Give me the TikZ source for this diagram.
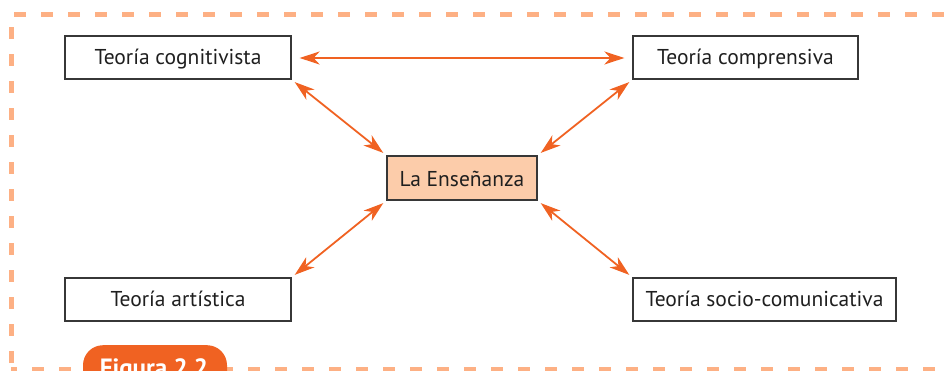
\documentclass[tikz,border=0pt]{standalone}
\usepackage{fontspec}
\setmainfont{PT Sans}
\usetikzlibrary{arrows.meta}
\definecolor{dashor}{RGB}{253,176,132}
\definecolor{arror}{RGB}{240,98,34}
\definecolor{peach}{RGB}{252,204,170}
\definecolor{boxline}{RGB}{55,55,55}
\tikzset{
  teo/.style={draw=boxline, line width=1.2pt, fill=white, minimum height=43pt, inner sep=0pt, text height=17.5pt, text depth=2.5pt, font=\fontsize{21.5}{24}\selectfont, text=black!88},
  conn/.style={draw=arror, line width=2pt, {Stealth[length=20pt,width=13pt,inset=6pt]}-{Stealth[length=20pt,width=13pt,inset=6pt]}, shorten <=8pt, shorten >=8pt},
  diag/.style={conn, line width=1.8pt, shorten <=4pt, shorten >=4pt},
}
\begin{document}
\begin{tikzpicture}[x=1pt,y=-1pt]
\useasboundingbox (0,0) rectangle (948,371);
\clip (0,0) rectangle (948,371);
% dashed frame
\draw[dashor, line width=5pt, dash pattern=on 12pt off 15pt] (11,390) -- (11,15) -- (960,15);
\draw[dashor, line width=5pt, dash pattern=on 12pt off 15pt, dash phase=6pt] (11,369) -- (960,369);
% nodes
\node[teo, minimum width=226pt] (cog) at (178,57.5) {Teoría cognitivista};
\node[teo, minimum width=225pt] (com) at (745.5,57.5) {Teoría comprensiva};
\node[teo, minimum width=226pt] (art) at (178,299.5) {Teoría artística};
\node[teo, minimum width=263pt] (soc) at (764.5,299.5) {Teoría socio-comunicativa};
\node[teo, fill=peach, minimum width=150pt, minimum height=44pt, text height=18.5pt, text depth=1.5pt] (ens) at (462,178) {La Enseñanza};
% connectors
\draw[conn] ([yshift=-0.5pt]cog.east) -- ([yshift=-0.5pt]com.west);
\draw[diag] (cog.south east) -- (ens.north west);
\draw[diag] (com.south west) -- (ens.north east);
\draw[diag] (art.north east) -- (ens.south west);
\draw[diag] (soc.north west) -- (ens.south east);
% figure tab
\node[fill=arror, rounded corners=20pt, minimum width=144pt, minimum height=60pt, anchor=north, inner sep=0pt] (fig) at (155,345) {};
\node[text=white, font=\bfseries\fontsize{25}{28}\selectfont, anchor=base] (figt) at (154,376) {Figura 2.2};
\end{tikzpicture}
\end{document}
